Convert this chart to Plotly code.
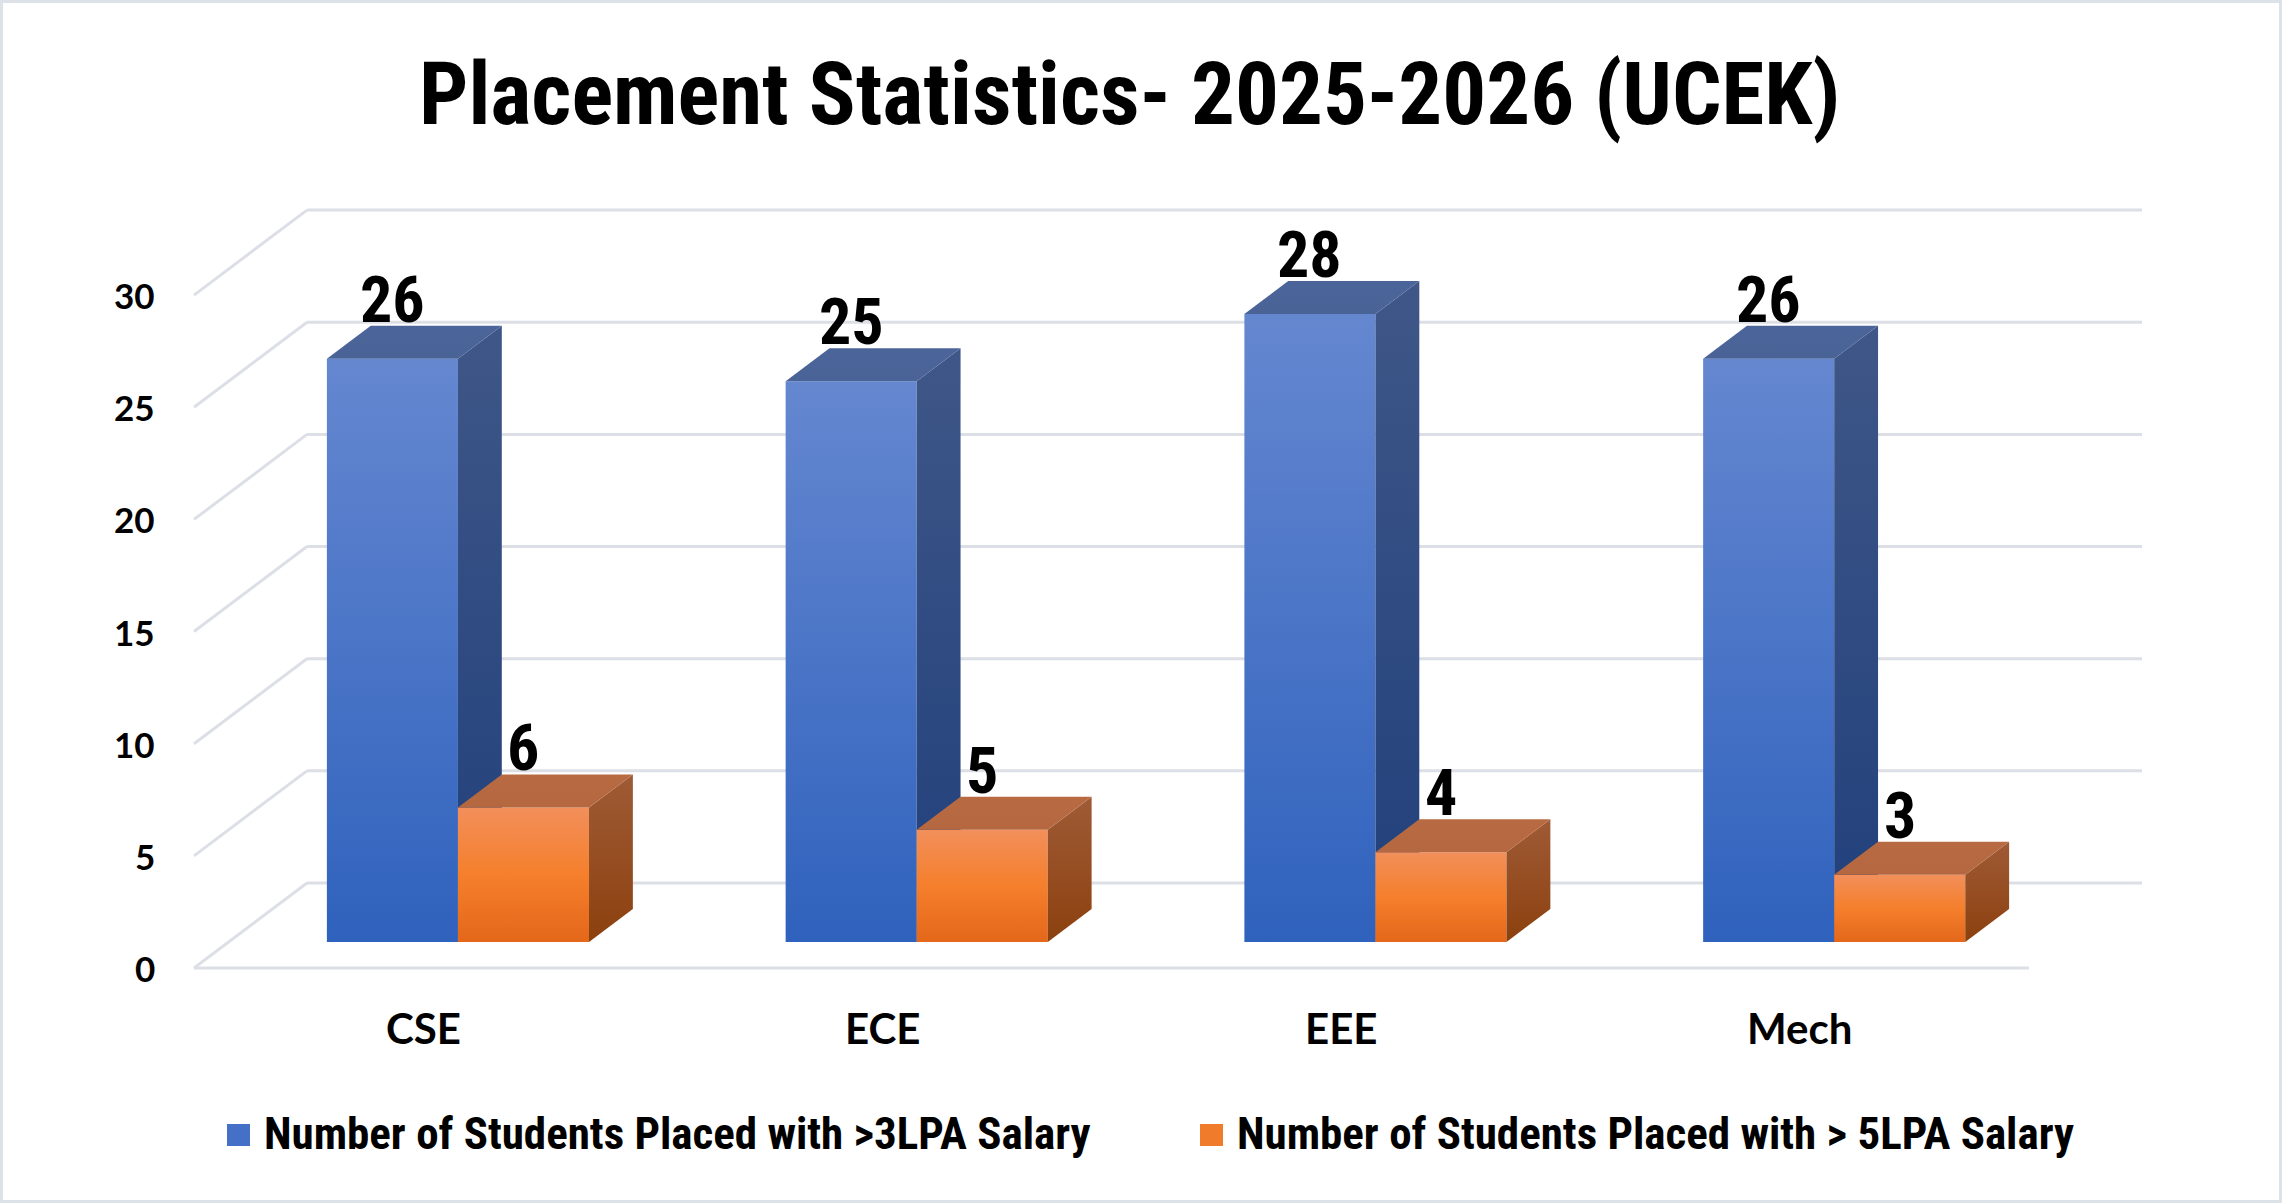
import plotly.graph_objects as go

# ---------------- data ----------------
categories = ["CSE", "ECE", "EEE", "Mech"]
above_3lpa = [26, 25, 28, 26]
above_5lpa = [6, 5, 4, 3]
series_names = [
    "Number of Students Placed with >3LPA Salary",
    "Number of Students Placed with > 5LPA Salary",
]
y_ticks = [0, 5, 10, 15, 20, 25, 30]
title_text = "Placement Statistics- 2025-2026 (UCEK)"

# ---------------- geometry (oblique 3D projection) ----------------
W, H = 2283, 1203
PX_U = 458.75          # pixels per category unit
PX_V = 22.43           # pixels per value unit
X0_PX = 194.0          # left end of the front floor edge
Y0_PX = 968.0          # value 0 on the front plane
DEPTH_U = 113 / PX_U   # full depth offset, category units
DEPTH_V = 85 / PX_V    # full depth offset, value units
D_FRONT, D_BACK = 0.306, 0.694
BAR_W = 0.2857

u_min = -0.5 - X0_PX / PX_U
x_range = [u_min, u_min + W / PX_U]
y_range = [-(H - Y0_PX) / PX_V, Y0_PX / PX_V]


def proj(u, v, d):
    return u + d * DEPTH_U, v + d * DEPTH_V


def poly(pts):
    xs, ys = [], []
    for (u, v, d) in pts + [pts[0]]:
        x, y = proj(u, v, d)
        xs.append(x)
        ys.append(y)
    return xs, ys


FONT_NARROW = "Roboto Condensed, Noto Sans Condensed, Liberation Sans Narrow, Liberation Sans, sans-serif"
FONT_CAL = "Lato, Carlito, Calibri, sans-serif"

styles = [
    {  # blue
        "front": [[0, "#2F62BD"], [1, "#6587D0"]],
        "top": [[0, "#4A6397"], [1, "#4B659A"]],
        "side": [[0, "#203F7B"], [1, "#3F5788"]],
        "legend": "#4471C7",
    },
    {  # orange
        "front": [[0, "#E4671A"], [0.5, "#F57F2C"], [1, "#F28F5B"]],
        "top": [[0, "#B56840"], [1, "#B86B42"]],
        "side": [[0, "#8C400E"], [1, "#9F5B36"]],
        "legend": "#F07B2A",
    },
]

fig = go.Figure()

# ---------------- gridlines (back wall, side wall, floor front) ----------------
gx, gy = [], []
u_left, u_right = -0.5, len(categories) - 0.5
for t in y_ticks:
    for (a, b) in [((u_left, t, 0), (u_left, t, 1)), ((u_left, t, 1), (u_right, t, 1))]:
        x1, y1 = proj(*a)
        x2, y2 = proj(*b)
        gx += [x1, x2, None]
        gy += [y1, y2, None]
x1, y1 = proj(u_left, 0, 0)
x2, y2 = proj(u_right, 0, 0)
gx += [x1, x2, None]
gy += [y1, y2, None]
fig.add_trace(go.Scatter(x=gx, y=gy, mode="lines",
                         line=dict(color="#DCDFE6", width=3),
                         hoverinfo="skip", showlegend=False))

# ---------------- 3D bars ----------------
annotations = []
series = [above_3lpa, above_5lpa]
for i, cat in enumerate(categories):
    for s, vals in enumerate(series):
        h = vals[i]
        a = i - BAR_W + s * BAR_W
        b = a + BAR_W
        st = styles[s]
        faces = [
            ("front", [(a, 0, D_FRONT), (b, 0, D_FRONT), (b, h, D_FRONT), (a, h, D_FRONT)]),
            ("side", [(b, 0, D_FRONT), (b, 0, D_BACK), (b, h, D_BACK), (b, h, D_FRONT)]),
            ("top", [(a, h, D_FRONT), (b, h, D_FRONT), (b, h, D_BACK), (a, h, D_BACK)]),
        ]
        for fname, pts in faces:
            xs, ys = poly(pts)
            fig.add_trace(go.Scatter(
                x=xs, y=ys, mode="lines", fill="toself",
                line=dict(width=0),
                fillgradient=dict(type="vertical", colorscale=st[fname]),
                hoverinfo="skip", showlegend=False,
            ))
        lx, _ = proj((a + b) / 2, h, D_FRONT)
        _, ly = proj((a + b) / 2, h, D_BACK)
        annotations.append(dict(
            x=lx, y=ly, xref="x", yref="y", text=str(h), showarrow=False,
            xanchor="center", yanchor="bottom", yshift=-14,
            font=dict(family=FONT_NARROW, size=64, color="#000000", weight="bold"),
        ))

# ---------------- axis texts ----------------
for t in y_ticks:
    annotations.append(dict(
        x=157 / W, y=t, xref="paper", yref="y", text=str(t), showarrow=False,
        xanchor="right", yanchor="middle",
        font=dict(family=FONT_CAL, size=35, color="#000000", weight="bold"),
    ))
for i, cat in enumerate(categories):
    annotations.append(dict(
        x=i, y=(Y0_PX - 1028) / PX_V, xref="x", yref="y", text=cat, showarrow=False,
        xanchor="center", yanchor="middle",
        font=dict(family=FONT_CAL, size=42, color="#000000", weight="bold"),
    ))

# ---------------- title ----------------
annotations.append(dict(
    x=1130 / W, y=1 - 94 / H, xref="paper", yref="paper", text=title_text,
    showarrow=False, xanchor="center", yanchor="middle",
    font=dict(family=FONT_NARROW, size=87, color="#000000", weight="bold"),
))

# ---------------- legend ----------------
shapes = []
legend_pos = [(227, 262), (1200, 1235)]
for s, name in enumerate(series_names):
    sx, tx = legend_pos[s]
    shapes.append(dict(type="rect", xref="paper", yref="paper",
                       x0=sx / W, x1=(sx + 23) / W, y0=1 - 1146 / H, y1=1 - 1124 / H,
                       fillcolor=styles[s]["legend"], line=dict(width=0)))
    annotations.append(dict(
        x=tx / W, y=1 - 1133 / H, xref="paper", yref="paper", text=name,
        showarrow=False, xanchor="left", yanchor="middle",
        font=dict(family=FONT_NARROW, size=45, color="#000000", weight="bold"),
    ))

# chart border
shapes.append(dict(type="rect", xref="paper", yref="paper",
                   x0=1.5 / W, x1=(W - 2.5) / W, y0=1.5 / H, y1=1 - 1.5 / H,
                   line=dict(color="#DDE2E8", width=3), fillcolor="rgba(0,0,0,0)"))

fig.update_layout(
    width=W, height=H,
    margin=dict(l=0, r=0, t=0, b=0),
    paper_bgcolor="#FFFFFF", plot_bgcolor="#FFFFFF",
    xaxis=dict(range=x_range, visible=False, fixedrange=True),
    yaxis=dict(range=y_range, visible=False, fixedrange=True),
    showlegend=False,
    annotations=annotations,
    shapes=shapes,
)

fig.write_html("out.html")
